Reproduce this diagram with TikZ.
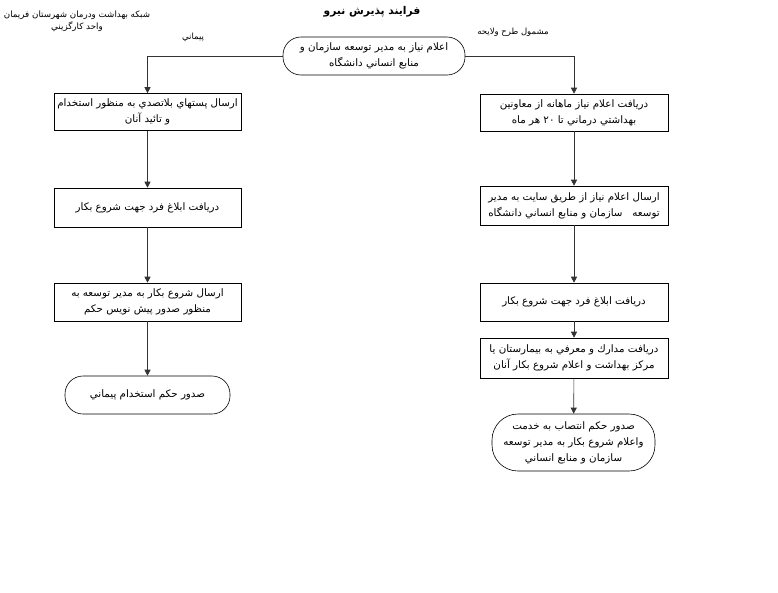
\documentclass[tikz,border=0pt]{standalone}
\usepackage{fontspec}
\setmainfont{Liberation Sans}
\newfontfamily\ar[Script=Arabic]{DejaVu Sans}
\TeXXeTstate=1
\usetikzlibrary{arrows.meta}
\newcommand\fa[1]{\beginR #1\endR}
\begin{document}
\begin{tikzpicture}[x=1pt,y=-1pt,
  box/.style={draw, line width=0.6pt, minimum width=187pt, minimum height=37pt, align=center, font=\ar\fontsize{10.3}{16}\selectfont, inner xsep=1pt, inner ysep=2pt},
  term/.style={box, rounded corners=18pt},
  conn/.style={draw=black!80, line width=0.6pt, -{Triangle[width=6pt,length=6pt]}},
  lbl/.style={font=\ar\fontsize{8.5}{12}\selectfont, align=center, inner sep=0pt}]
\useasboundingbox (0,0) rectangle (778,592);
% titles
\node[lbl, font=\ar\bfseries\fontsize{10.7}{12}\selectfont] (title) at (372,12) {\fa{فرايند پذيرش نيرو}};
\node[lbl, font=\ar\fontsize{8.7}{12}\selectfont] (org) at (77,21) {\fa{شبكه بهداشت ودرمان شهرستان فريمان}\\\fa{واحد كارگزيني}};
\node[lbl] (lpay) at (193,37) {\fa{پيماني}};
\node[lbl] (rtrh) at (513,32) {\fa{مشمول طرح ولايحه}};
% top
\node[term, minimum width=182pt, minimum height=38pt] (top) at (374,56) {\fa{اعلام نياز به مدير توسعه سازمان و}\\\fa{منابع انساني دانشگاه}};
% left column
\node[box] (l1) at (147.5,112) {\fa{ارسال پستهاي بلاتصدي به منظور استخدام}\\\fa{و تائيد آنان}};
\node[box, minimum height=39pt] (l2) at (147.5,207.5) {\fa{دريافت ابلاغ فرد جهت شروع بكار}};
\node[box, minimum height=38pt] (l3) at (147.5,302) {\fa{ارسال شروع بكار به مدير توسعه به}\\\fa{منظور صدور پيش نويس حكم}};
\node[term, minimum width=165pt, minimum height=38pt] (l4) at (147.5,395) {\fa{صدور حكم استخدام پيماني}};
% right column
\node[box, minimum width=188pt] (r1) at (574,112.5) {\fa{دريافت اعلام نياز ماهانه از معاونين}\\\fa{بهداشتي درماني تا ۲۰ هر ماه}};
\node[box, minimum width=188pt, minimum height=39pt] (r2) at (574,205.5) {\fa{ارسال اعلام نياز از طريق سايت به مدير}\\\fa{توسعه\ \ \ سازمان و منابع انساني دانشگاه}};
\node[box, minimum width=188pt, minimum height=38pt] (r3) at (574,302) {\fa{دريافت ابلاغ فرد جهت شروع بكار}};
\node[box, minimum width=188pt, minimum height=40pt] (r4) at (574,358) {\fa{دريافت مدارك و معرفي به بيمارستان يا}\\\fa{مركز بهداشت و اعلام شروع بكار آنان}};
\node[term, minimum width=163pt, minimum height=57pt, rounded corners=26pt] (r5) at (573.5,442.5) {\fa{صدور حكم انتصاب به خدمت}\\\fa{واعلام شروع بكار به مدير توسعه}\\\fa{سازمان و منابع انساني}};
% connectors
\draw[conn] (top.west) -| (l1.north);
\draw[conn] (top.east) -| (r1.north);
\draw[conn] (l1) -- (l2);
\draw[conn] (l2) -- (l3);
\draw[conn] (l3) -- (l4);
\draw[conn] (r1) -- (r2);
\draw[conn] (r2) -- (r3);
\draw[conn] (r3) -- (r4);
\draw[conn] (r4) -- (r5);
\end{tikzpicture}
\end{document}
